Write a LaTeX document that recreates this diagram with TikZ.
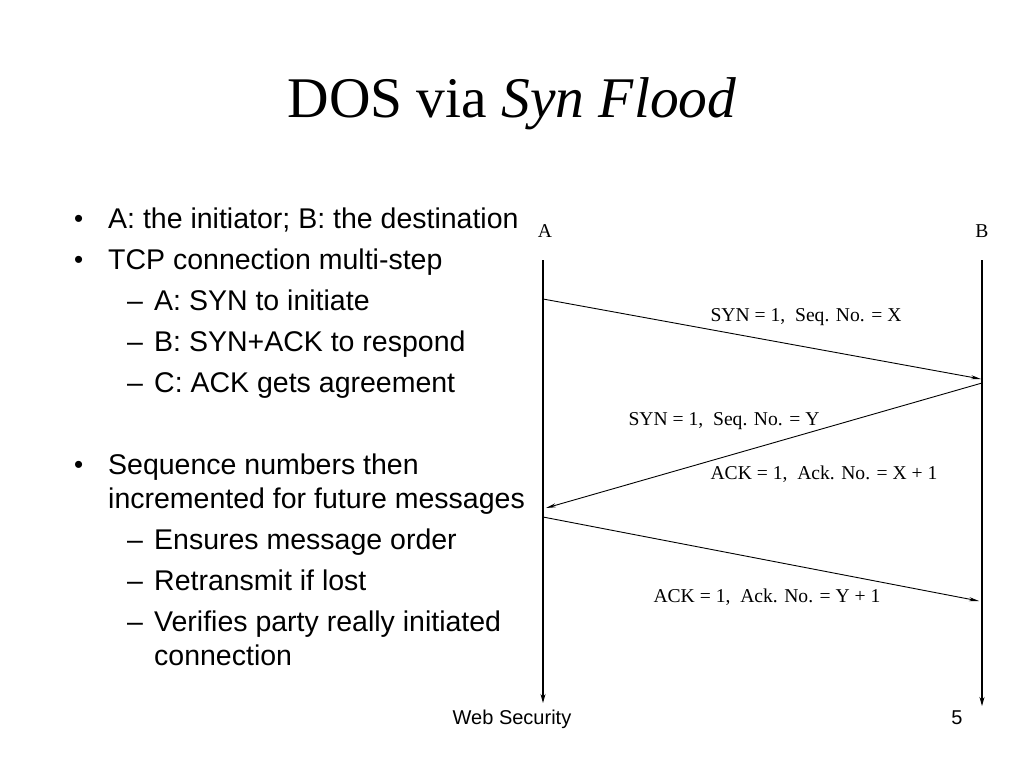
\documentclass[tikz,border=0pt]{standalone}
\usepackage{fontspec}
\setmainfont{Liberation Serif}
\newfontfamily\arialf{Liberation Sans}
\usetikzlibrary{arrows.meta}
\begin{document}
\begin{tikzpicture}[x=1pt,y=-1pt,
  bul/.style={anchor=base west,inner sep=0pt,font=\arialf\fontsize{28.5}{32}\selectfont},
  dot/.style={anchor=base west,inner sep=0pt,font=\arialf\fontsize{26}{30}\selectfont},
  lbl/.style={inner sep=0pt,font=\fontsize{19.6}{22}\selectfont},
  life/.style={line width=1.1pt,-{Stealth[length=9pt,width=5pt]}},
  msg/.style={line width=0.9pt,-{Stealth[length=10pt,width=4pt]}},
  foot/.style={inner sep=0pt,anchor=base,font=\arialf\fontsize{20}{22}\selectfont}]
\useasboundingbox (0,0) rectangle (1024,768);
% title
\node[inner sep=0pt,anchor=base] (title) at (512,117) {\fontsize{57.5}{64}\selectfont DOS via \textit{Syn Flood}};
% bullets
\node[dot] (b1d) at (74,227) {\textbullet};
\node[bul] (b1) at (108,228) {A: the initiator; B: the destination};
\node[dot] (b2d) at (74,268) {\textbullet};
\node[bul] (b2) at (108,269) {TCP connection multi-step};
\node[bul] (s1d) at (127,310) {\textendash};
\node[bul] (s1) at (154,310) {A: SYN to initiate};
\node[bul] (s2d) at (127,351) {\textendash};
\node[bul] (s2) at (154,351) {B: SYN+ACK to respond};
\node[bul] (s3d) at (127,392) {\textendash};
\node[bul] (s3) at (154,392) {C: ACK gets agreement};
\node[dot] (b3d) at (74,473) {\textbullet};
\node[bul] (b3) at (108,474) {Sequence numbers then};
\node[bul] (b3b) at (108,508) {incremented for future messages};
\node[bul] (s4d) at (127,549) {\textendash};
\node[bul] (s4) at (154,549) {Ensures message order};
\node[bul] (s5d) at (127,590) {\textendash};
\node[bul] (s5) at (154,590) {Retransmit if lost};
\node[bul] (s6d) at (127,631) {\textendash};
\node[bul] (s6) at (154,631) {Verifies party really initiated};
\node[bul] (s6b) at (154,665) {connection};
% lifelines
\node[lbl] (A) at (545,231) {A};
\node[lbl] (B) at (982,231) {B};
\coordinate (Atop) at (543,260);
\coordinate (Abot) at (543,703);
\coordinate (Btop) at (982,260);
\coordinate (Bbot) at (982,706);
\draw[life] (Atop) -- (Abot);
\draw[life] (Btop) -- (Bbot);
% messages
\coordinate (m1s) at (543,299);
\coordinate (m1e) at (981,379);
\coordinate (m2s) at (982,383);
\coordinate (m2e) at (546,508);
\coordinate (m3s) at (543,517);
\coordinate (m3e) at (979,601);
\draw[msg] (m1s) -- (m1e);
\draw[msg] (m2s) -- (m2e);
\draw[msg] (m3s) -- (m3e);
\node[lbl] (l1) at (806,317) {SYN = 1,\ \ Seq. No. = X};
\node[lbl] (l2) at (724,421) {SYN = 1,\ \ Seq. No. = Y};
\node[lbl] (l3) at (824,474) {ACK = 1,\ \ Ack. No. = X + 1};
\node[lbl] (l4) at (767,597) {ACK = 1,\ \ Ack. No. = Y + 1};
% footer
\node[foot] (f1) at (512,724) {Web Security};
\node[foot] (f2) at (957,724) {5};
\end{tikzpicture}
\end{document}
